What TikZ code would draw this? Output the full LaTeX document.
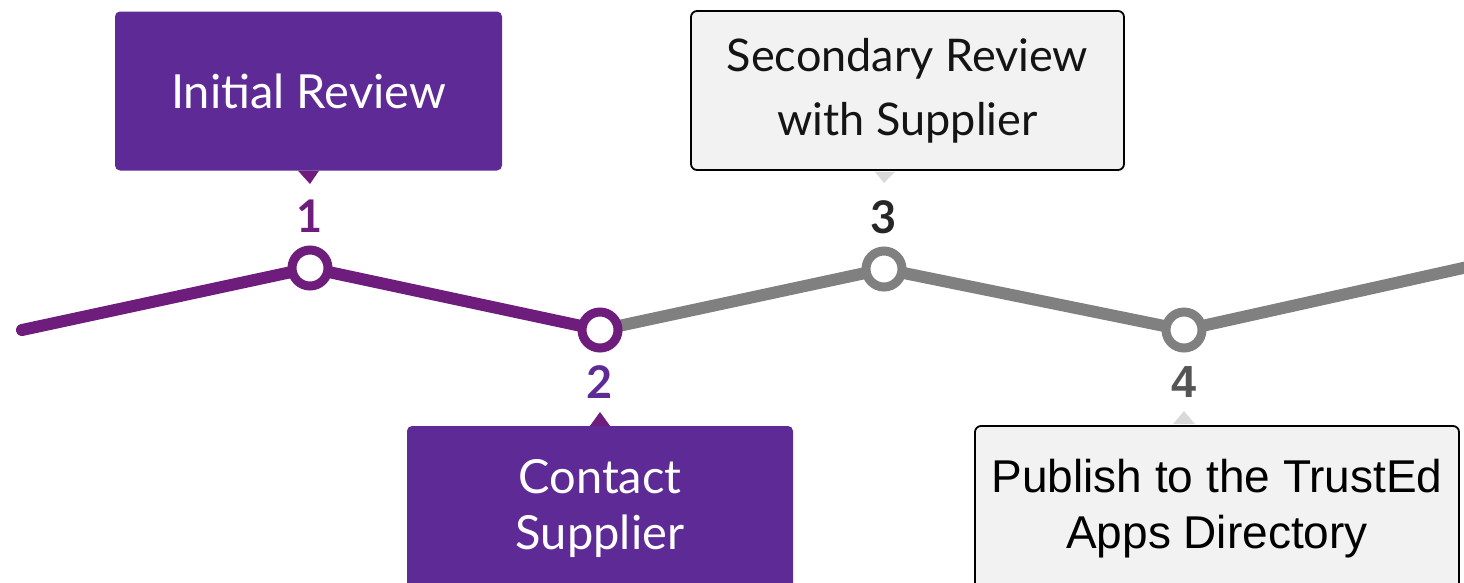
\documentclass[tikz,border=0pt]{standalone}
\usepackage{fontspec}
\setmainfont{Lato}
\newfontfamily\robofont{Liberation Sans}
\usetikzlibrary{calc}
\definecolor{boxpurple}{HTML}{5E2B96}
\definecolor{linepurple}{HTML}{6E1D7C}
\definecolor{linegray}{HTML}{808080}
\definecolor{boxgray}{HTML}{F2F2F2}
\definecolor{ptrgray}{HTML}{D9D9D9}
\definecolor{numgray}{HTML}{555555}
\begin{document}
\begin{tikzpicture}[x=1pt,y=-1pt,
  trackline/.style={line width=12pt,line cap=round,line join=round},
  stepdot/.style={circle,draw,line width=9pt,fill=white,minimum size=36pt,inner sep=0pt},
  purplebox/.style={rectangle,rounded corners=5pt,fill=boxpurple,text=white,align=center,inner sep=0pt},
  graybox/.style={rectangle,rounded corners=6pt,fill=boxgray,draw=black,line width=1.8pt,align=center,inner sep=0pt},
  numlabel/.style={anchor=base,font=\fontsize{45}{50}\selectfont\bfseries}
]
\useasboundingbox (0,0) rectangle (1464,582);
\clip (0,0) rectangle (1464,582);

% track coordinates
\coordinate (s) at (22,330);
\coordinate (e) at (1490,262);
\coordinate (p1) at (310,268);
\coordinate (p2) at (600,330);
\coordinate (p3) at (884,269);
\coordinate (p4) at (1184,330);

\draw[trackline,draw=linepurple] (s) -- (p1) -- (p2);
\draw[trackline,draw=linegray] (p2) -- (p3) -- (p4) -- (e);

\node[stepdot,draw=linepurple] (c1) at (p1) {};
\node[stepdot,draw=linepurple] (c2) at (p2) {};
\node[stepdot,draw=linegray] (c3) at (p3) {};
\node[stepdot,draw=linegray] (c4) at (p4) {};

% numbers
\node[numlabel,text=linepurple] (n1) at (310,232) {1};
\node[numlabel,text=boxpurple] (n2) at (600,398) {2};
\node[numlabel,text=black!85] (n3) at (884,233) {3};
\node[numlabel,text=numgray,font=\robofont\fontsize{45}{50}\selectfont\bfseries] (n4) at (1184,397) {4};

% boxes
\node[purplebox,minimum width=387pt,minimum height=159pt,
  font=\fontsize{47}{55}\selectfont] (b1) at (308.5,91) {Initial Review};
\node[graybox,minimum width=433pt,minimum height=159pt,text=black!92,
  font=\fontsize{45}{64}\selectfont] (b3) at (907.5,90.5) {Secondary Review\\with Supplier};
\node[purplebox,minimum width=386pt,minimum height=164pt,
  font=\fontsize{47}{56}\selectfont] (b2) at (600,508) {Contact\\Supplier};
\node[graybox,minimum width=484pt,minimum height=166pt,text=black,
  font=\robofont\fontsize{46}{56}\selectfont] (b4) at (1217,509) {Publish to the TrustEd\\Apps Directory};

% pointers
\fill[linepurple] ($(b1.south)+(-10.5,0)$) -- ($(b1.south)+(10.5,0)$) -- (310,184) -- cycle;
\fill[ptrgray] ($(b3.south)+(-32.5,1)$) -- ($(b3.south)+(-12.5,1)$) -- (884,183) -- cycle;
\fill[linepurple] ($(b2.north)+(-10,0)$) -- ($(b2.north)+(10,0)$) -- (600,412) -- cycle;
\fill[ptrgray] ($(b4.north)+(-44,-1)$) -- ($(b4.north)+(-22,-1)$) -- (1184,411) -- cycle;
\end{tikzpicture}
\end{document}
